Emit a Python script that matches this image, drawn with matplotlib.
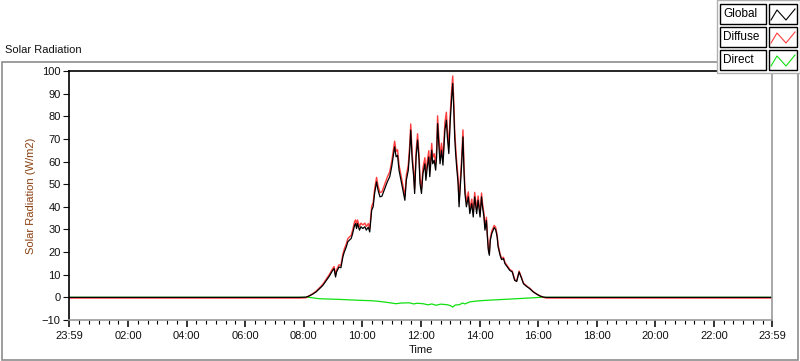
import numpy as np
import matplotlib
matplotlib.use("Agg")
import matplotlib.pyplot as plt
from matplotlib.patches import Rectangle
from matplotlib.lines import Line2D
from matplotlib.ticker import FixedLocator, FuncFormatter

plt.rcParams['font.family'] = ['Liberation Sans', 'DejaVu Sans']

# minutes after midnight (-1 = 23:59 of the previous day)
t_global = [-1, 471, 484, 491, 498, 505, 512, 519, 526, 532, 539, 542, 545, 547, 552, 556,
            560, 563, 567, 570, 573, 577, 580, 584, 586, 588, 590, 594, 597, 601, 605, 608,
            612, 615, 619, 622, 625, 629, 632, 636, 640, 646, 651, 656, 660, 663, 666, 669,
            672, 675, 679, 683, 687, 690, 694, 697, 699, 702, 705, 707, 710, 713, 716, 718,
            721, 724, 728, 730, 733, 736, 738, 742, 744, 747, 750, 752, 754, 757, 759, 762,
            765, 769, 772, 774, 777, 780, 783, 785, 787, 789, 791, 793, 796, 798, 800, 803,
            806, 808, 810, 813, 817, 820, 824, 827, 830, 834, 837, 841, 844, 846, 849, 851,
            854, 856, 858, 860, 862, 865, 868, 870, 873, 876, 878, 882, 885, 889, 892, 897,
            902, 907, 912, 916, 921, 925, 930, 936, 943, 950, 957, 964, 971, 977, 1439]

glob = [0, 0, 0.1, 0.6, 1.4, 2.4, 3.8, 5.3, 7.5, 9.3, 11.9, 12.7, 9.0, 11.2, 13.4, 13.1,
        17.9, 20.1, 22.3, 24.5, 25.2, 26.0, 28.2, 31.9, 32.6, 30.4, 32.6, 29.7, 31.2, 30.4, 31.2, 29.7,
        31.0, 28.9, 38.5, 40.0, 45.9, 51.0, 47.4, 44.4, 44.7, 48.1, 51.0, 53.3, 57.7, 62.1, 66.5, 62.1,
        62.8, 56.2, 51.8, 47.4, 42.9, 51.8, 56.2, 65.0, 73.9, 60.6, 53.3, 45.9, 62.1, 69.5, 60.6, 50.3,
        45.9, 54.7, 59.0, 51.7, 57.7, 62.0, 53.3, 65.0, 59.0, 60.6, 56.2, 62.0, 76.8, 66.5, 59.0, 65.0,
        58.4, 73.9, 78.3, 70.9, 63.5, 78.3, 88.7, 94.5, 84.2, 70.9, 63.5, 57.7, 50.3, 40.0, 47.4, 57.7,
        70.9, 56.2, 45.9, 40.0, 44.4, 37.0, 41.4, 35.5, 44.4, 37.0, 42.9, 35.5, 44.4, 40.0, 35.5, 29.7,
        34.0, 26.7, 20.8, 18.6, 25.2, 28.2, 29.7, 30.8, 29.9, 26.7, 22.3, 18.6, 16.7, 17.1, 14.9, 13.4,
        11.9, 11.2, 7.5, 7.0, 11.2, 9.0, 6.0, 4.9, 3.8, 2.4, 1.4, 0.6, 0.1, 0, 0]

diffuse = [-0.3, -0.3, -0.2, 0.7, 1.6, 2.7, 4.2, 5.8, 8.1, 10.0, 12.7, 13.6, 9.8, 12.1, 14.4, 14.1,
           19.1, 21.4, 23.6, 25.9, 26.6, 27.4, 29.7, 33.5, 34.2, 31.9, 34.2, 31.2, 32.8, 32.0, 32.8, 31.3,
           32.6, 30.5, 40.2, 41.8, 47.8, 53.0, 49.3, 46.3, 46.6, 50.1, 53.1, 55.5, 60.0, 64.5, 69.0, 64.5,
           65.2, 58.5, 54.0, 49.5, 44.8, 54.0, 58.6, 67.6, 76.6, 63.1, 55.6, 48.0, 64.7, 72.3, 63.2, 52.6,
           48.1, 57.2, 61.7, 54.2, 60.4, 64.8, 55.9, 68.0, 61.8, 63.5, 59.0, 65.0, 80.2, 69.6, 62.0, 68.1,
           61.3, 77.3, 81.8, 74.2, 66.6, 81.8, 92.4, 97.8, 87.6, 74.0, 66.5, 60.5, 52.9, 42.3, 49.8, 60.4,
           74.0, 58.9, 48.3, 42.2, 46.6, 39.0, 43.4, 37.4, 46.4, 38.8, 44.8, 37.2, 46.1, 41.6, 37.0, 31.0,
           35.4, 27.9, 21.8, 19.5, 26.3, 29.3, 30.8, 31.8, 30.9, 27.6, 23.1, 19.3, 17.3, 17.7, 15.4, 13.9,
           12.3, 11.6, 7.8, 7.3, 11.6, 9.3, 6.3, 5.1, 4.0, 2.5, 1.5, 0.6, 0.0, -0.3, -0.3]

t_direct = [-1, 491, 512, 553, 594, 620, 635, 650, 669, 680, 696, 705, 712, 724, 735, 742,
            751, 760, 772, 780, 785, 790, 799, 805, 810, 820, 835, 854, 881, 915, 949, 963, 1439]
direct = [0, 0, -0.6, -0.9, -1.3, -1.5, -1.8, -2.2, -2.8, -2.5, -2.4, -2.9, -2.6, -2.8, -3.3, -2.9,
          -3.5, -3.0, -3.2, -3.6, -4.3, -3.4, -3.2, -2.5, -2.9, -2.0, -1.6, -1.3, -1.0, -0.6, -0.2, 0, 0]

major_ticks = [-1, 120, 240, 360, 480, 600, 720, 840, 960, 1080, 1200, 1320, 1439]
tick_labels = ['23:59', '02:00', '04:00', '06:00', '08:00', '10:00', '12:00',
               '14:00', '16:00', '18:00', '20:00', '22:00', '23:59']
y_ticks = [-10, 0, 10, 20, 30, 40, 50, 60, 70, 80, 90, 100]

names = ['Global', 'Diffuse', 'Direct']
colors = ['black', '#ff3c3c', '#10e010']

W, H = 800, 361
fig = plt.figure(figsize=(W / 100, H / 100), dpi=100)
fig.patch.set_facecolor('white')


def fx(x):
    return x / W


def fy(y):
    return 1 - y / H


# outer frame of the graph
fig.add_artist(Rectangle((fx(1.5), fy(359.5)), fx(796), (359.5 - 62) / H,
                         transform=fig.transFigure, fill=False, ec='#8c8c8c', lw=1.2))
fig.text(fx(5), fy(50), 'Solar Radiation', fontsize=8, va='center', ha='left', color='#111111')

ax = fig.add_axes([fx(69), fy(320), 703 / W, 249 / H])
ax.plot(t_direct, direct, color=colors[2], lw=0.9)
ax.plot(t_global, diffuse, color=colors[1], lw=1.0)
ax.plot(t_global, glob, color=colors[0], lw=0.9)

ax.set_xlim(-1, 1439)
ax.set_ylim(-10, 100)
ax.xaxis.set_major_locator(FixedLocator(major_ticks))
ax.xaxis.set_major_formatter(FuncFormatter(lambda v, p: tick_labels[major_ticks.index(int(round(v)))]
                                           if int(round(v)) in major_ticks else ''))
ax.xaxis.set_minor_locator(FixedLocator([m for m in range(20, 1440, 20) if m not in major_ticks]))
ax.set_yticks(y_ticks)
ax.tick_params(axis='both', labelsize=8, colors='#111111')
ax.tick_params(axis='x', which='major', length=5, width=1.2, pad=3)
ax.tick_params(axis='x', which='minor', length=3, width=0.8)
ax.tick_params(axis='y', length=4, width=0.8, pad=2)
for s in ['top', 'left']:
    ax.spines[s].set_color('black')
    ax.spines[s].set_linewidth(1.2)
for s in ['bottom', 'right']:
    ax.spines[s].set_color('#9a9a9a')
    ax.spines[s].set_linewidth(1.2)
ax.set_ylabel('Solar Radiation (W/m2)', fontsize=8, color='#8a4010', labelpad=4)
ax.set_xlabel('Time', fontsize=8, color='#111111', labelpad=3)

# legend panel, LabVIEW style
fig.add_artist(Rectangle((fx(717), fy(73)), fx(83), 73 / H, transform=fig.transFigure,
                         fc='white', ec='#b0b0b0', lw=1.0, zorder=5))
for i, (nm, c) in enumerate(zip(names, colors)):
    top = 4 + i * 23
    fig.add_artist(Rectangle((fx(720), fy(top + 20)), fx(46), 20 / H, transform=fig.transFigure,
                             fc='white', ec='black', lw=1.0, zorder=6))
    fig.text(fx(723), fy(top + 10), nm, fontsize=8.5, va='center', ha='left', zorder=7)
    fig.add_artist(Rectangle((fx(769), fy(top + 20)), fx(28), 20 / H, transform=fig.transFigure,
                             fc='white', ec='black', lw=1.0, zorder=6))
    zx = [771, 777, 786, 795]
    zy = [top + 16, top + 6, top + 16, top + 5]
    fig.add_artist(Line2D([fx(v) for v in zx], [fy(v) for v in zy], transform=fig.transFigure,
                          color=c, lw=0.8, zorder=7))

fig.savefig('out.png', dpi=100)
